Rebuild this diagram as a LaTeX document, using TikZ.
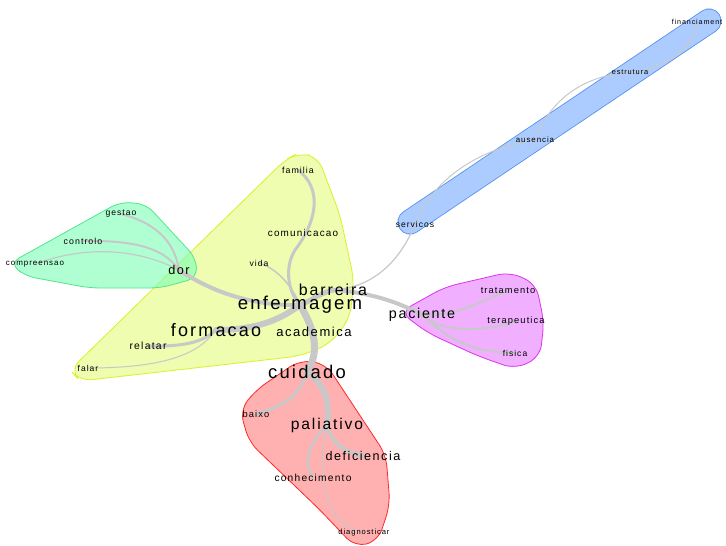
\documentclass[tikz,border=0pt]{standalone}
\usepackage{fontspec}
\newfontfamily\lab[LetterSpace=12]{Liberation Sans}
\definecolor{edgegray}{RGB}{200,200,200}
\definecolor{yfill}{RGB}{238,253,175}
\definecolor{yline}{RGB}{220,240,40}
\definecolor{gfill}{RGB}{122,255,180}
\definecolor{gline}{RGB}{80,230,140}
\definecolor{rfill}{RGB}{255,176,176}
\definecolor{rline}{RGB}{255,40,40}
\definecolor{pfill}{RGB}{240,176,255}
\definecolor{pline}{RGB}{220,50,240}
\definecolor{bfill}{RGB}{172,204,255}
\definecolor{bline}{RGB}{80,140,240}
\pgfdeclarelayer{hulls}
\pgfdeclarelayer{edges}
\pgfsetlayers{hulls,edges,main}
\begin{document}
\begin{tikzpicture}[x=1pt,y=-1pt,
  w/.style={inner sep=0pt, text=black, font={\lab\fontsize{#1}{#1}\selectfont}},
  e/.style={draw=edgegray, line width=#1, line cap=round},
  hull/.style={rounded corners=12pt, line width=0.8pt}]
\useasboundingbox (0,0) rectangle (726,546);
% ---------- nodes ----------
\node[w=7.2] (fin) at (697,22) {financiament};
\node[w=7.4] (est) at (630,72) {estrutura};
\node[w=7.9] (aus) at (535,140) {ausencia};
\node[w=8.5] (ser) at (415,224) {servicos};
\node[w=8.8] (fam) at (298,170) {familia};
\node[w=9.9] (comu) at (303,233) {comunicacao};
\node[w=8.6] (vid) at (259,263) {vida};
\node[w=15.9] (bar) at (333,290) {barreira};
\node[w=18.6] (enf) at (300,305) {enfermagem};
\node[w=18] (for) at (216,330) {formacao};
\node[w=13] (aca) at (314,332) {academica};
\node[w=10.4] (rel) at (148,346) {relatar};
\node[w=8.5] (fal) at (88,368) {falar};
\node[w=12.7] (dor) at (179,270) {dor};
\node[w=8.6] (ges) at (121,214) {gestao};
\node[w=8.8] (con) at (83,241) {controlo};
\node[w=8] (comp) at (35,264) {compreensao};
\node[w=14.3] (pac) at (422,315) {paciente};
\node[w=9.3] (tra) at (508,291) {tratamento};
\node[w=9.3] (ter) at (516,321) {terapeutica};
\node[w=8.5] (fis) at (515,353) {fisica};
\node[w=18.4] (cui) at (307,372) {cuidado};
\node[w=9.3] (bai) at (256,414) {baixo};
\node[w=15.6] (pal) at (327,425) {paliativo};
\node[w=12.6] (def) at (363,456) {deficiencia};
\node[w=10.2] (conh) at (313,478) {conhecimento};
\node[w=7.6] (dia) at (364,533) {diagnosticar};
% ---------- hulls ----------
\begin{pgfonlayer}{hulls}
\fill[white] (0,0) rectangle (726,546);
\draw[hull, fill=yfill, draw=yline] (298,153) -- (318,157) -- (340,215) -- (354,280) -- (350,318) -- (330,344) -- (300,356) -- (80,381) -- (70,370) -- (285,160) -- cycle;
\draw[hull, rounded corners=10pt, fill=gfill, fill opacity=0.6, draw=gline] (10,263) -- (120,202) -- (146,204) -- (196,258) -- (197,278) -- (160,288) -- (90,288) -- (25,276) -- cycle;
\draw[hull, fill=rfill, draw=rline] (300,360) -- (326,364) -- (386,455) -- (390,505) -- (378,541) -- (355,547) -- (320,510) -- (249,442) -- (240,410) -- (256,390) -- cycle;
\draw[hull, fill=pfill, draw=pline] (400,312) -- (445,287) -- (510,272) -- (536,284) -- (544,322) -- (540,357) -- (515,369) -- (478,356) -- (428,333) -- cycle;
\draw[bline, line width=25pt, line cap=round] (410,222) -- (709,21);
\draw[bfill, line width=23.4pt, line cap=round] (410,222) -- (709,21);
\end{pgfonlayer}
% ---------- edges ----------
\begin{pgfonlayer}{edges}
\draw[e=7] (enf.center) .. controls (315,330) and (320,352) .. (cui.center);
\draw[e=6] (cui.center) .. controls (325,385) and (330,400) .. (pal.center);
\draw[e=4] (pal.center) .. controls (330,442) and (345,452) .. (def.center);
\draw[e=3] (cui.center) .. controls (300,395) and (285,406) .. (bai.center);
\draw[e=2.5] (pal.center) .. controls (308,445) and (303,462) .. (conh.center);
\draw[e=1] (pal.center) .. controls (318,465) and (318,522) .. (dia.center);
\draw[e=5] (enf.center) .. controls (313,300) and (320,293) .. (bar.center);
\draw[e=4] (bar.center) .. controls (365,292) and (395,300) .. (pac.center);
\draw[e=2] (pac.center) .. controls (460,316) and (482,300) .. (tra.center);
\draw[e=2] (pac.center) .. controls (440,332) and (482,333) .. (ter.center);
\draw[e=2] (pac.center) .. controls (440,330) and (460,352) .. (fis.center);
\draw[e=1.2] (bar.center) .. controls (372,288) and (400,262) .. (ser.center);
\draw[e=1] (ser.center) .. controls (430,186) and (470,150) .. (aus.center);
\draw[e=1] (aus.center) .. controls (550,100) and (582,76) .. (est.center);
\draw[e=1] (est.center) .. controls (670,68) and (695,45) .. (fin.center);
\draw[e=6] (enf.center) .. controls (285,316) and (262,330) .. (for.center);
\draw[e=3] (for.center) .. controls (205,340) and (190,347) .. (rel.center);
\draw[e=1] (for.center) .. controls (200,352) and (170,368) .. (fal.center);
\draw[e=4] (enf.center) .. controls (260,306) and (218,296) .. (dor.center);
\draw[e=2] (dor.center) .. controls (175,245) and (160,224) .. (ges.center);
\draw[e=2] (dor.center) .. controls (165,250) and (140,240) .. (con.center);
\draw[e=1.2] (dor.center) .. controls (140,250) and (90,244) .. (comp.center);
\draw[e=3] (fam.center) .. controls (322,188) and (318,220) .. (295,250) .. controls (284,268) and (288,292) .. (enf.center);
\draw[e=1.5] (vid.center) .. controls (275,268) and (290,282) .. (enf.center);
\end{pgfonlayer}
\end{tikzpicture}
\end{document}
